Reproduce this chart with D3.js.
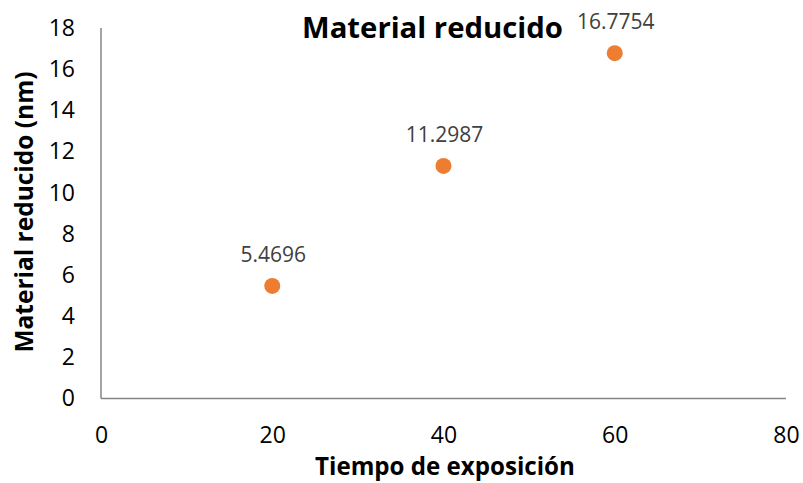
<!DOCTYPE html>
<head>
<meta charset="utf-8">
<title>Material reducido</title>
<script src="https://d3js.org/d3.v7.min.js"></script>
<style>
body { margin: 0; background: #fff; }
.axis path { stroke: #868686; stroke-width: 1.5; }
.axis line { display: none; }
.axis text { fill: #000; font-family: "Open Sans", sans-serif; font-size: 23px; }
.title { font-family: "Open Sans", sans-serif; font-weight: bold; font-size: 28px; fill: #000; }
.axis-title { font-family: "Open Sans", sans-serif; font-weight: bold; font-size: 22px; fill: #000; }
.label { font-family: "Open Sans", sans-serif; font-size: 21px; fill: #404040; }
</style>
</head>
<body>
<div id="container"></div>
<script>
// data
const tiempo = [20, 40, 60];
const material = [5.4696, 11.2987, 16.7754];
const xTicks = [0, 20, 40, 60, 80];
const yTicks = [0, 2, 4, 6, 8, 10, 12, 14, 16, 18];

const width = 803, height = 483;
const svg = d3.select("#container").append("svg")
    .attr("width", width)
    .attr("height", height);

const xScale = d3.scaleLinear().domain([0, 80]).range([101, 786]);
const yScale = d3.scaleLinear().domain([0, 18]).range([398.5, 28]);

const xaxis = d3.axisBottom(xScale).tickValues(xTicks).tickSize(0).tickPadding(28);
const yaxis = d3.axisLeft(yScale).tickValues(yTicks).tickSize(0).tickPadding(26);

const gx = svg.append("g")
    .attr("class", "axis")
    .attr("transform", "translate(0," + yScale(0) + ")")
    .call(xaxis);
gx.select(".domain").attr("d", "M" + xScale(0) + ",0H" + xScale(80));

const gy = svg.append("g")
    .attr("class", "axis")
    .attr("transform", "translate(" + xScale(0) + ",0)")
    .call(yaxis);
gy.select(".domain").attr("d", "M0," + yScale(0) + "V" + yScale(18));

// shrink/grow a text so that its length matches the target width
function fit(sel, target) {
    const len = sel.node().getComputedTextLength();
    const fs = parseFloat(getComputedStyle(sel.node()).fontSize);
    sel.style("font-size", (fs * target / len) + "px");
    return sel;
}

// titles
fit(svg.append("text").attr("class", "title")
    .attr("x", 432.5).attr("y", 38)
    .attr("text-anchor", "middle")
    .text("Material reducido"), 261);

fit(svg.append("text").attr("class", "axis-title")
    .attr("x", 445).attr("y", 475)
    .attr("text-anchor", "middle")
    .text("Tiempo de exposición"), 260);

fit(svg.append("text").attr("class", "axis-title")
    .attr("transform", "translate(33,212) rotate(-90)")
    .attr("text-anchor", "middle")
    .text("Material reducido (nm)"), 281);

// points
const pts = tiempo.map((t, i) => ({x: t, y: material[i]}));

svg.selectAll("circle.pt")
    .data(pts)
    .enter().append("circle")
    .attr("class", "pt")
    .attr("cx", d => xScale(d.x))
    .attr("cy", d => yScale(d.y))
    .attr("r", 8)
    .attr("fill", "#ED7D31");

svg.selectAll("text.label")
    .data(pts)
    .enter().append("text")
    .attr("class", "label")
    .attr("x", d => xScale(d.x) + 1)
    .attr("y", d => yScale(d.y) - 24)
    .attr("text-anchor", "middle")
    .text(d => d.y.toFixed(4));
</script>
</body>
